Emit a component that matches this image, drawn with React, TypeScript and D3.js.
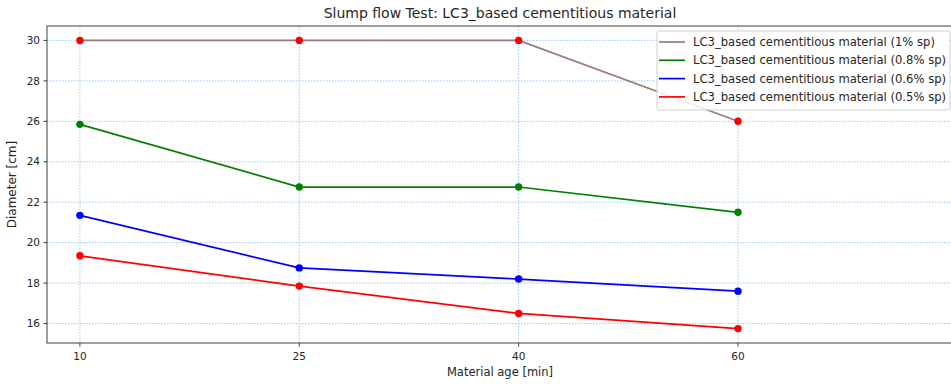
import * as d3 from "d3";

const ages = ["10", "25", "40", "60"];
const sp10 = [30, 30, 30, 26];
const sp08 = [25.85, 22.75, 22.75, 21.5];
const sp06 = [21.35, 18.75, 18.2, 17.6];
const sp05 = [19.35, 17.85, 16.5, 15.75];
const yTicks = [16, 18, 20, 22, 24, 26, 28, 30];

const series = [
  { label: "LC3_based cementitious material (1% sp)", values: sp10, line: "#9c7a7a", dot: "#ff0000" },
  { label: "LC3_based cementitious material (0.8% sp)", values: sp08, line: "#008000", dot: "#008000" },
  { label: "LC3_based cementitious material (0.6% sp)", values: sp06, line: "#0000ff", dot: "#0000ff" },
  { label: "LC3_based cementitious material (0.5% sp)", values: sp05, line: "#ff0000", dot: "#ff0000" },
];

const W = 951;
const H = 384;
const left = 47, right = 953, top = 26, bottom = 343;
const font = "DejaVu Sans, sans-serif";
const txt = "#262626";
const gridColor = "#92c2f2";

export default function App() {
  const x = d3.scaleLinear().domain([-0.15, 3.98]).range([left, right]);
  const y = d3.scaleLinear().domain([15.0375, 30.7125]).range([bottom, top]);

  const line = d3
    .line<number>()
    .x((_, i) => x(i))
    .y((d) => y(d));

  const legX = 657, legY = 31, legW = 293, legH = 79;

  return (
    <div style={{ position: "absolute", left: 0, top: 0 }}>
      <svg width={W} height={H} style={{ display: "block", background: "#fff" }}>
        <text x={500} y={18} textAnchor="middle" fontFamily={font} fontSize={14} fill={txt}>
          Slump flow Test: LC3_based cementitious material
        </text>

        {/* grid */}
        {yTicks.map((t) => (
          <line key={"gy" + t} x1={left} x2={right} y1={y(t)} y2={y(t)}
            stroke={gridColor} strokeWidth={0.9} strokeDasharray="1.5,1.5" />
        ))}
        {ages.map((a, i) => (
          <line key={"gx" + a} x1={x(i)} x2={x(i)} y1={top} y2={bottom}
            stroke={gridColor} strokeWidth={0.9} strokeDasharray="1.5,1.5" />
        ))}

        {/* series */}
        {series.map((s) => (
          <g key={s.label}>
            <path d={line(s.values) || ""} fill="none" stroke={s.line} strokeWidth={1.7} />
            {s.values.map((v, i) => (
              <circle key={i} cx={x(i)} cy={y(v)} r={3.7} fill={s.dot} />
            ))}
          </g>
        ))}

        {/* spines */}
        <rect x={left} y={top} width={right - left} height={bottom - top} fill="none" stroke="#404040" strokeWidth={1} />

        {/* y axis */}
        {yTicks.map((t) => (
          <g key={"ty" + t}>
            <line x1={left - 3.5} x2={left} y1={y(t)} y2={y(t)} stroke="#404040" />
            <text x={left - 7} y={y(t)} dy="0.35em" textAnchor="end" fontFamily={font} fontSize={10.5} fill={txt}>
              {t}
            </text>
          </g>
        ))}
        <text transform={`translate(12,${(top + bottom) / 2}) rotate(-90)`} textAnchor="middle"
          dy="0.35em" fontFamily={font} fontSize={12} fill={txt}>
          Diameter [cm]
        </text>

        {/* x axis */}
        {ages.map((a, i) => (
          <g key={"tx" + a}>
            <line x1={x(i)} x2={x(i)} y1={bottom} y2={bottom + 3.5} stroke="#404040" />
            <text x={x(i)} y={bottom + 17} textAnchor="middle" fontFamily={font} fontSize={10.5} fill={txt}>
              {a}
            </text>
          </g>
        ))}
        <text x={(left + right) / 2} y={376} textAnchor="middle" fontFamily={font} fontSize={11.5} fill={txt}>
          Material age [min]
        </text>

        {/* legend */}
        <rect x={legX} y={legY} width={legW} height={legH} rx={2} fill="#fff" fillOpacity={0.85}
          stroke="#d0d0d0" strokeWidth={1} />
        {series.map((s, i) => {
          const yy = legY + 11 + i * 18.3;
          return (
            <g key={"lg" + i}>
              <line x1={legX + 2} x2={legX + 28} y1={yy} y2={yy} stroke={s.line} strokeWidth={1.7} />
              <text x={legX + 36} y={yy} dy="0.35em" fontFamily={font} fontSize={11.6} fill={txt}>
                {s.label}
              </text>
            </g>
          );
        })}
      </svg>
    </div>
  );
}
